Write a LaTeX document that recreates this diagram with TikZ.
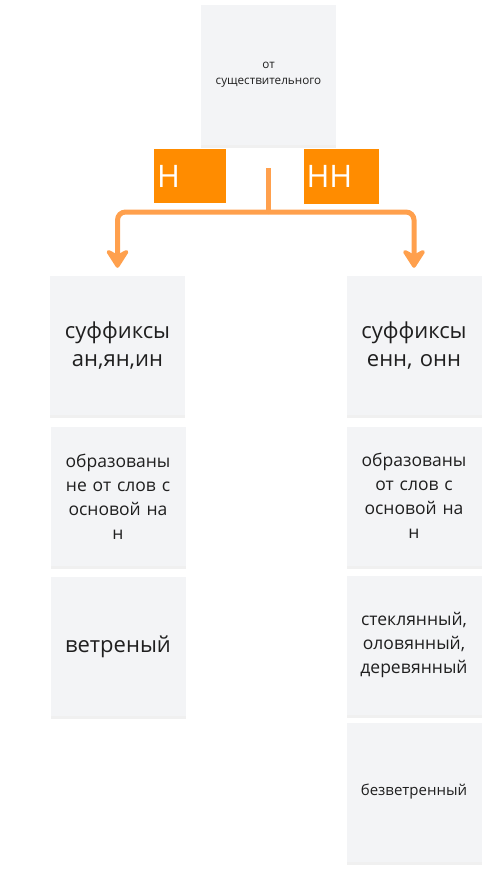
\documentclass[tikz,border=0pt]{standalone}
\usepackage{fontspec}
\setmainfont{Open Sans}
\usetikzlibrary{arrows.meta,positioning,shadows}
\definecolor{notefill}{HTML}{F3F4F6}
\definecolor{notetext}{HTML}{1F1F1F}
\definecolor{tagorange}{HTML}{FF8C00}
\definecolor{linkorange}{HTML}{FFA04D}
\begin{document}
\begin{tikzpicture}
  [
  x=1pt, y=-1pt,
  note/.style={rectangle, minimum width=135pt, minimum height=139pt, fill=notefill, text=notetext,
    text width=130pt, align=center, inner sep=0pt,
    drop shadow={opacity=0.12, shadow xshift=0pt, shadow yshift=-3pt}},
  tag/.style={rectangle, minimum height=54pt, fill=tagorange, text=white, align=left, inner xsep=3pt,
    font=\fontsize{31}{31}\selectfont},
  branch/.style={draw=linkorange, line width=5pt, rounded corners=8pt},
  arrowed/.style={branch, -{Stealth[length=22pt, width=28pt, inset=7pt, round]}},
  big/.style={font=\fontsize{22}{28}\selectfont},
  mid/.style={font=\fontsize{17.5}{24}\selectfont},
  small/.style={font=\fontsize{15}{18}\selectfont}
  ]
\useasboundingbox (0,0) rectangle (492,875);

\node[note, minimum height=140pt, font=\fontsize{11.7}{16}\selectfont] (noun) at (268.5,75) {от\\ существительного};

\node[tag, text width=66pt] (single) at (190,176) {Н};
\node[tag, text width=69pt, minimum height=55pt] (double) at (341,176.5) {НН};

\node[note, big] (sufL) at (117.5,345.5) {суффиксы\\ ан,ян,ин};
\node[note, mid] (ruleL) at (118,496.5) {образованы\\ не от слов с\\ основой на\\ н};
\node[note, big] (exL) at (118,646.5) {ветреный};

\node[note, big] (sufR) at (414,345.5) {суффиксы\\ енн, онн};
\node[note, mid] (ruleR) at (414,496) {образованы\\ от слов с\\ основой на\\ н};
\node[note, mid] (exR) at (414,645) {стеклянный,\\ оловянный,\\ деревянный};
\node[note, small] (excR) at (414,792) {безветренный};

\coordinate (split) at (268,168);
\coordinate (joint) at (268,212);

\draw[branch] (split) -- (joint);
\draw[arrowed] (joint) -| ([yshift=8pt]sufL.north);
\draw[arrowed] (joint) -| ([yshift=8pt]sufR.north);
\end{tikzpicture}
\end{document}
